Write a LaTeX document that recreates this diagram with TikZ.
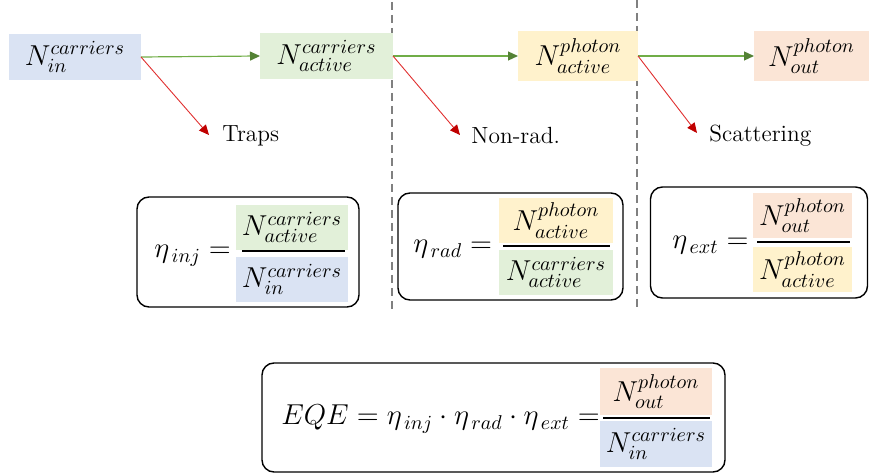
\documentclass[tikz,border=0pt]{standalone}
\usepackage{amsmath}
\usetikzlibrary{arrows.meta,calc}
\definecolor{cblue}{HTML}{DAE3F3}
\definecolor{cgreen}{HTML}{E2F0D9}
\definecolor{cyellow}{HTML}{FFF2CC}
\definecolor{corange}{HTML}{FBE5D6}
\definecolor{agreen}{HTML}{70AD47}
\definecolor{tgreen}{HTML}{548235}
\definecolor{ared}{HTML}{E03030}
\definecolor{tred}{HTML}{C00000}
\definecolor{dgray}{HTML}{808080}
\tikzset{
  qty/.style={inner sep=0pt, outer sep=0pt, align=center},
  gflow/.style={agreen, line width=0.6pt, -{Triangle[length=5pt,width=4.5pt,color=tgreen]}},
  rflow/.style={ared, line width=0.45pt, -{Triangle[length=5pt,width=4.5pt,color=tred]}},
  loss/.style={inner sep=0pt, anchor=west, font=\fontsize{11.7}{14}\selectfont},
  sep/.style={dgray, line width=0.8pt, dash pattern=on 4pt off 2.5pt},
  frm/.style={draw=black, line width=0.7pt, rounded corners=6pt, inner sep=0pt},
  bar/.style={black, line width=0.6pt},
  lhs/.style={inner sep=0pt, anchor=base west}
}
\begin{document}
\begin{tikzpicture}[x=0.5pt,y=-0.5pt, font=\fontsize{14.5}{17}\selectfont]
\useasboundingbox (0,0) rectangle (869,475);

% separators
\draw[sep] (392,2) -- (392,310);
\draw[sep] (637,0) -- (637,310);

% top quantities
\node[qty, fill=cblue, minimum width=66pt, minimum height=23pt] (nin) at (75,57) {$N^{carriers}_{in}$};
\node[qty, fill=cgreen, minimum width=66.5pt, minimum height=23pt] (nac) at (326.5,56) {$N^{carriers}_{active}$};
\node[qty, fill=cyellow, minimum width=60pt, minimum height=25pt] (npa) at (578,56) {$N^{photon}_{active}$};
\node[qty, fill=corange, minimum width=57.5pt, minimum height=25pt] (npo) at (811.5,56) {$N^{photon}_{out}$};

% loss labels
\node[loss] (traps) at (222,136) {Traps};
\node[loss] (nonrad) at (471,136) {Non-rad.};
\node[loss] (scat) at (709,136) {Scattering};

% arrows
\draw[gflow] (nin.east) -- (nac.west);
\draw[gflow] (nac.east) -- (npa.west);
\draw[gflow] (npa.east) -- (npo.west);
\draw[rflow] (nin.east) -- ([xshift=-6.5pt,yshift=0.5pt]traps.west);
\draw[rflow] (nac.east) -- ([xshift=-5.5pt,yshift=0.5pt]nonrad.west);
\draw[rflow] (npa.east) -- ([xshift=-6pt,yshift=1.5pt]scat.west);

% formula box 1
\node[frm, minimum width=111pt, minimum height=55pt] (f1) at (248,252) {};
\node[qty, fill=cgreen, minimum width=56pt, minimum height=22.5pt] (f1n) at (292,227.5) {$N^{carriers}_{active}$};
\node[qty, fill=cblue, minimum width=56pt, minimum height=22.5pt] (f1d) at (292,279.5) {$N^{carriers}_{in}$};
\draw[bar] (242,251) -- (345,251);
\node[lhs] (f1l) at (154,258) {$\eta_{\,inj} =$};

% formula box 2
\node[frm, minimum width=112.5pt, minimum height=53.5pt] (f2) at (510.5,246.5) {};
\node[qty, fill=cyellow, minimum width=57pt, minimum height=22.5pt] (f2n) at (556,220.5) {$N^{photon}_{active}$};
\node[qty, fill=cgreen, minimum width=57pt, minimum height=22.5pt] (f2d) at (556,272.5) {$N^{carriers}_{active}$};
\draw[bar] (503,246) -- (610,246);
\node[lhs] (f2l) at (413,253) {$\eta_{\,rad} =$};

% formula box 3
\node[frm, minimum width=108.5pt, minimum height=55.5pt] (f3) at (759,242.5) {};
\node[qty, fill=corange, minimum width=49.5pt, minimum height=22.5pt] (f3n) at (802.5,215.5) {$N^{photon}_{out}$};
\node[qty, fill=cyellow, minimum width=49.5pt, minimum height=22.5pt] (f3d) at (802.5,269.5) {$N^{photon}_{active}$};
\draw[bar] (757,242) -- (850,242);
\node[lhs] (f3l) at (672,249) {$\eta_{\,ext} =$};

% formula box 4
\node[frm, minimum width=231.5pt, minimum height=54.5pt] (f4) at (493.5,417.5) {};
\node[qty, fill=corange, minimum width=56pt, minimum height=23.5pt] (f4n) at (656,391.5) {$N^{photon}_{out}$};
\node[qty, fill=cblue, minimum width=56pt, minimum height=23pt] (f4d) at (656,444) {$N^{carriers}_{in}$};
\draw[bar] (603,418) -- (710,418);
\node[lhs, font=\fontsize{14.1}{17}\selectfont] (f4l) at (281,425) {$EQE = \eta_{\,inj}\cdot\eta_{\,rad}\cdot\eta_{\,ext} =$};
\end{tikzpicture}
\end{document}
